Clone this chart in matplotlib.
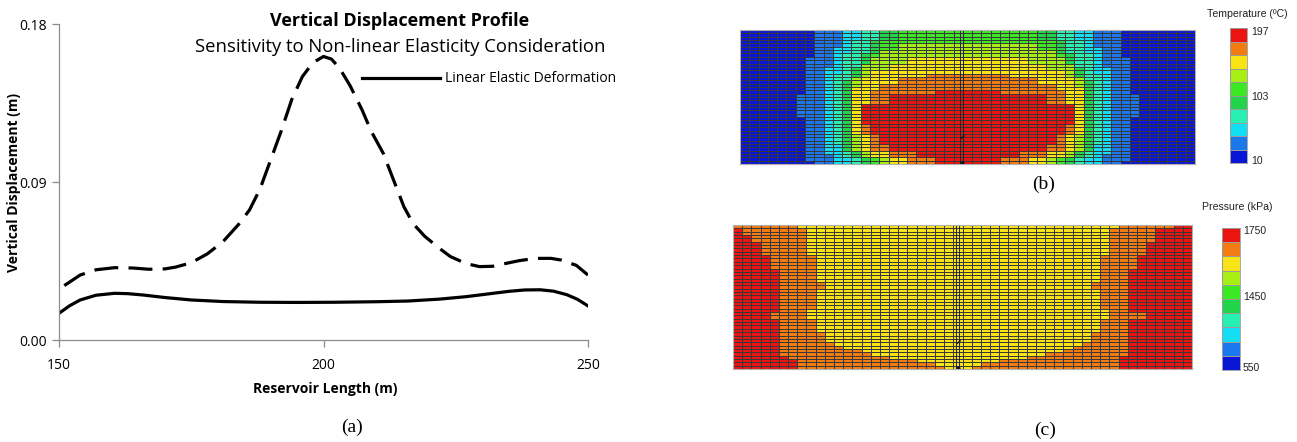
import numpy as np
import matplotlib
matplotlib.use('Agg')
import matplotlib.pyplot as plt
from matplotlib import font_manager
from matplotlib.colors import ListedColormap, BoundaryNorm
from matplotlib.lines import Line2D

W, H = 1297, 442

# ---- (a) vertical displacement profiles
x_nonlin = [151, 154, 157, 160.5, 164, 167, 170, 172, 175, 178, 181, 184, 186, 188,
            190, 192, 194, 196, 198, 200, 201.5, 203, 205, 207.3, 209, 211.3, 213,
            215.2, 217, 219.2, 222, 224, 227, 229.5, 232, 234.3, 237, 240, 243, 245,
            247.8, 250]
y_nonlin = [0.031, 0.037, 0.040, 0.0412, 0.041, 0.0403, 0.0405, 0.0415, 0.044, 0.049,
            0.056, 0.066, 0.074, 0.086, 0.1025, 0.119, 0.137, 0.150, 0.158, 0.1615,
            0.160, 0.155, 0.145, 0.131, 0.119, 0.1063, 0.093, 0.0759, 0.066, 0.0589,
            0.052, 0.0475, 0.0435, 0.0418, 0.042, 0.0435, 0.0452, 0.0465, 0.0465,
            0.0455, 0.0425, 0.037]
x_lin = [150, 152, 154, 157, 160.5, 163, 166, 170, 175, 181, 188, 195, 202, 210, 216,
         222, 227, 231, 235, 238, 241, 243.5, 246, 248, 250]
y_lin = [0.0152, 0.0195, 0.0228, 0.0255, 0.0266, 0.0264, 0.0256, 0.0242, 0.0228,
         0.0219, 0.0215, 0.0214, 0.0215, 0.0218, 0.0222, 0.0233, 0.0247, 0.0262,
         0.0277, 0.0285, 0.0286, 0.0278, 0.0258, 0.0232, 0.0194]
x_ticks = [150, 200, 250]
y_ticks = [0.00, 0.09, 0.18]

# ---- (b) temperature grid: half-width (cells from the well column) reached by each level, per row
t_rows, t_cols, t_center = 40, 49, 24
t_hw1 = [16, 16, 16, 16, 16, 16, 16, 16, 17, 17, 17, 17, 17, 17, 17, 17, 17, 17, 17, 18,
         18, 18, 18, 18, 18, 18, 17, 17, 17, 17, 17, 17, 17, 17, 17, 17, 17, 17, 17, 16]
t_hw2 = [13, 13, 13, 13, 13, 14, 14, 14, 14, 14, 14, 15, 15, 15, 15, 15, 15, 15, 15, 15,
         15, 15, 15, 15, 15, 15, 15, 15, 15, 15, 15, 15, 15, 15, 15, 15, 15, 14, 14, 14]
t_hw3 = [11, 11, 11, 12, 12, 12, 12, 13, 13, 13, 13, 13, 13, 14, 14, 14, 14, 14, 14, 14,
         14, 14, 14, 14, 14, 14, 14, 14, 14, 14, 14, 14, 14, 14, 13, 13, 13, 13, 12, 12]
t_hw4 = [9, 9, 9, 10, 10, 10, 10, 11, 11, 11, 11, 12, 12, 12, 12, 13, 13, 13, 13, 13,
         13, 13, 13, 13, 13, 13, 13, 13, 13, 13, 13, 13, 13, 13, 13, 13, 12, 12, 11, 11]
t_hw5 = [7, 7, 7, 9, 9, 9, 9, 10, 10, 10, 10, 11, 11, 11, 11, 12, 12, 12, 12, 12,
         12, 12, 12, 12, 12, 12, 12, 12, 12, 12, 12, 12, 12, 12, 12, 12, 11, 11, 10, 10]
t_hw6 = [-1, -1, -1, -1, 7, 7, 9, 9, 10, 10, 11, 11, 11, 11, 12, 12, 12, 12, 12, 12,
         12, 12, 12, 12, 12, 12, 12, 12, 12, 12, 12, 12, 12, 12, 12, 12, 11, 11, 9, 9]
t_hw7 = [-1, -1, -1, -1, -1, -1, -1, -1, 6, 6, 8, 8, 10, 10, 11, 11, 11, 12, 12, 12,
         12, 12, 12, 12, 12, 12, 12, 12, 12, 12, 12, 11, 11, 11, 11, 11, 10, 10, 8, 8]
t_hw8 = [-1, -1, -1, -1, -1, -1, -1, -1, -1, -1, -1, -1, -1, 4, 7, 7, 9, 9, 10, 10,
         10, 10, 11, 11, 11, 11, 11, 11, 11, 11, 11, 10, 10, 10, 10, 10, 8, 8, 6, 6]
t_hw9 = [-1, -1, -1, -1, -1, -1, -1, -1, -1, -1, -1, -1, -1, -1, -1, -1, -1, -1, 3, 8,
         8, 8, 11, 11, 11, 11, 11, 11, 10, 10, 10, 9, 9, 9, 8, 8, 5, 5, 3, 3]
t_ticks = ['197', '103', '10']

# ---- (c) pressure grid: band edges per row (red outside, orange, yellow inside)
p_rows, p_cols = 43, 50
p_red_left = [0, 1, 1, 2, 2, 3, 3, 3, 3, 4, 4, 4, 4, 5, 5, 5, 5, 5, 5, 5, 5, 5,
              5, 5, 5, 5, 4, 4, 5, 5, 5, 5, 5, 5, 5, 5, 5, 5, 5, 6, 7, 7, 7]
p_yel_lo = [7, 8, 8, 8, 8, 8, 8, 8, 8, 9, 9, 9, 9, 9, 9, 9, 9, 10, 10, 9, 9, 9,
            9, 9, 9, 8, 8, 8, 9, 9, 9, 9, 10, 10, 10, 11, 12, 14, 15, 17, 20, 22, 23]
p_yel_hi = [41, 40, 40, 40, 40, 40, 40, 40, 40, 39, 39, 39, 39, 39, 39, 39, 39, 38,
            38, 39, 39, 39, 39, 39, 39, 40, 40, 40, 39, 39, 39, 39, 38, 38, 38, 37,
            36, 35, 33, 31, 28, 26, 25]
p_red_right = [48, 46, 46, 46, 46, 45, 45, 45, 45, 44, 44, 44, 44, 43, 43, 43, 43,
               43, 43, 43, 43, 43, 43, 43, 43, 43, 45, 45, 43, 43, 43, 43, 43, 43,
               43, 43, 43, 43, 43, 42, 42, 42, 42]
p_ticks = ['1750', '1450', '550']

palette = ['#0a16d6', '#1a78ec', '#12def4', '#28f0b4', '#22d44a', '#3ce824',
           '#a8ee14', '#f8e414', '#f27c12', '#ec1410']


def pick_font(names):
    for n in names:
        try:
            font_manager.findfont(font_manager.FontProperties(family=n),
                                  fallback_to_default=False)
            return n
        except ValueError:
            pass
    return 'DejaVu Sans'


narrow = pick_font(['Liberation Sans Narrow', 'Open Sans', 'DejaVu Sans'])
arial = pick_font(['Liberation Sans', 'DejaVu Sans'])
serif = pick_font(['Liberation Serif', 'DejaVu Serif'])


def box(x0, y0, x1, y1):
    return [x0 / W, 1 - y1 / H, (x1 - x0) / W, (y1 - y0) / H]


def fpos(x, y):
    return x / W, 1 - y / H


fig = plt.figure(figsize=(W / 100, H / 100), dpi=100)
fig.patch.set_facecolor('white')

# ---------------- (a)
ax = fig.add_axes(box(59, 24, 588, 340))
ax.plot(x_nonlin, y_nonlin, color='black', lw=2.3, linestyle=(0, (7.5, 3.2)),
        solid_capstyle='butt', dash_capstyle='butt')
ax.plot(x_lin, y_lin, color='black', lw=2.3)
ax.set_xlim(150, 250)
ax.set_ylim(0, 0.18)
ax.set_xticks(x_ticks)
ax.set_xticklabels([str(v) for v in x_ticks])
ax.set_yticks(y_ticks)
ax.set_yticklabels(['%.2f' % v for v in y_ticks])
for s in ['top', 'right']:
    ax.spines[s].set_visible(False)
for s in ['left', 'bottom']:
    ax.spines[s].set_color('#8c8c8c')
    ax.spines[s].set_linewidth(0.9)
ax.tick_params(colors='#8c8c8c', length=5, width=0.9, labelcolor='black',
               labelsize=10, pad=4)
for lab in ax.get_xticklabels() + ax.get_yticklabels():
    lab.set_family(narrow)
ax.xaxis.set_tick_params(pad=8)

fig.text(*fpos(400, 21), 'Vertical Displacement Profile', family=narrow,
         fontsize=13, fontweight='bold', ha='center', va='center')
fig.text(*fpos(400, 47), 'Sensitivity to Non-linear Elasticity Consideration',
         family=narrow, fontsize=13.3, ha='center', va='center')
fig.text(*fpos(325, 389), 'Reservoir Length (m)', family=narrow, fontsize=10,
         fontweight='bold', ha='center', va='center')
fig.text(*fpos(14, 182), 'Vertical Displacement (m)', family=narrow, fontsize=10,
         fontweight='bold', ha='center', va='center', rotation=90)
ax.legend(handles=[Line2D([], [], color='black', lw=2.3)],
          labels=['Linear Elastic Deformation'], frameon=False,
          loc='center left', bbox_to_anchor=fpos(362, 79),
          bbox_transform=fig.transFigure, borderpad=0, borderaxespad=0,
          handlelength=5.6, handletextpad=0.4,
          prop={'family': narrow, 'size': 10})

fig.text(*fpos(352, 427), '(a)', family=serif, fontsize=14, ha='center', va='center')


# ---------------- grids
cmap = ListedColormap(palette)
norm = BoundaryNorm(np.arange(-0.5, 10.5, 1), cmap.N)


def grid_axes(rect, levels, well_x):
    a = fig.add_axes(rect)
    a.pcolormesh(levels, cmap=cmap, norm=norm, edgecolors='#383838', linewidth=0.38)
    a.invert_yaxis()
    a.set_xticks([])
    a.set_yticks([])
    for s in a.spines.values():
        s.set_color('#b0b0b0')
        s.set_linewidth(0.8)
    nr = levels.shape[0]
    for dx in (0.0, 0.35):
        a.plot([well_x + dx, well_x + dx], [0, nr], color='#222222', lw=0.7)
    a.plot([well_x + 0.2], [nr - 0.4], 'o', color='#111111', ms=2)
    a.plot([well_x + 0.1, well_x + 0.45], [nr - 7.6, nr - 8.4], color='#111111', lw=1)
    return a


def color_bar(rect, labels, label_y, label_x):
    c = fig.add_axes(rect)
    c.pcolormesh(np.arange(10)[::-1].reshape(-1, 1), cmap=cmap, norm=norm,
                 edgecolors='#9a9a9a', linewidth=0.5)
    c.invert_yaxis()
    c.set_xticks([])
    c.set_yticks([])
    for s in c.spines.values():
        s.set_color('#9a9a9a')
        s.set_linewidth(0.6)
    for t, y in zip(labels, label_y):
        fig.text(*fpos(label_x, y), t, family=arial, fontsize=7.5, ha='left',
                 va='center', color='#222222')


# (b) temperature
dist = np.abs(np.arange(t_cols) - t_center)
t_levels = np.zeros((t_rows, t_cols), dtype=int)
for k, hw in enumerate([t_hw1, t_hw2, t_hw3, t_hw4, t_hw5, t_hw6, t_hw7, t_hw8,
                        t_hw9], start=1):
    for r in range(t_rows):
        t_levels[r, dist <= hw[r]] = k
grid_axes(box(740, 30, 1195, 164), t_levels, 23.7)
color_bar(box(1230, 28, 1247, 163), t_ticks, [32, 97, 161], 1251)
fig.text(*fpos(1247, 14), 'Temperature (\u00baC)', family=arial, fontsize=7.6,
         ha='center', va='center', color='#222222')
fig.text(*fpos(1044, 184), '(b)', family=serif, fontsize=14, ha='center', va='center')

# (c) pressure
p_levels = np.full((p_rows, p_cols), 8)
for r in range(p_rows):
    p_levels[r, :p_red_left[r]] = 9
    p_levels[r, p_red_right[r]:] = 9
    p_levels[r, p_yel_lo[r]:p_yel_hi[r] + 1] = 7
grid_axes(box(733, 225, 1192, 369), p_levels, 24.3)
color_bar(box(1222, 228, 1240, 370), p_ticks, [231, 297, 368], 1243)
fig.text(*fpos(1237, 207), 'Pressure (kPa)', family=arial, fontsize=7.6,
         ha='center', va='center', color='#222222')
fig.text(*fpos(1045, 430), '(c)', family=serif, fontsize=14, ha='center', va='center')

fig.savefig('out.png', dpi=100, facecolor='white')
